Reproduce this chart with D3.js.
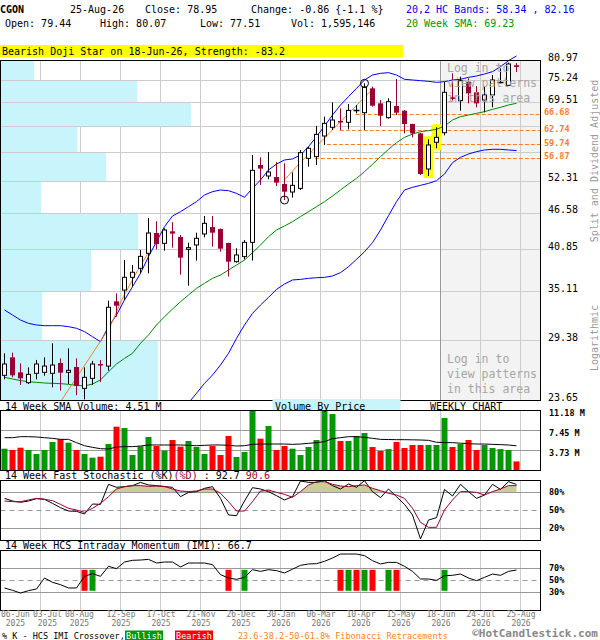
<!DOCTYPE html>
<html>
<head>
<meta charset="utf-8">
<script src="https://cdn.jsdelivr.net/npm/d3@7/dist/d3.min.js"></script>
<style>
  body { margin: 0; background: #fff; }
  svg { display: block; }
  text { font-family: "DejaVu Sans Mono", monospace; }
</style>
</head>
<body>
<svg id="chart" width="600" height="640"></svg>
<script>
// weekly candles, oldest first (65 weeks)
let opens = [25.86, 27.60, 26.14, 25.18, 26.05, 26.14, 26.05, 27.04, 26.14, 26.65,
    24.67, 25.58, 26.94, 26.74, 33.80, 35.21, 36.87, 38.09, 40.22, 43.29,
    41.70, 43.55, 42.67, 40.80, 41.45, 43.14, 44.23, 43.92, 41.75, 39.02,
    39.74, 41.85, 55.37, 53.21, 53.02, 51.69, 50.21, 50.88, 56.72, 57.07,
    61.50, 63.46, 64.93, 64.62, 67.56, 66.91, 73.07, 69.21, 65.72, 68.55,
    67.40, 64.22, 62.09, 54.57, 60.11, 62.24, 70.74, 69.89, 74.86, 72.03,
    70.06, 71.34, 74.82, 73.88, 79.44];
let highs = [28.00, 28.07, 27.00, 26.61, 27.34, 27.60, 29.04, 27.50, 28.51, 27.50,
    26.61, 27.24, 27.34, 33.89, 34.79, 39.25, 38.55, 40.71, 45.71, 45.16,
    44.02, 45.00, 42.98, 41.80, 43.34, 46.04, 46.04, 44.00, 41.80, 40.95,
    42.20, 57.41, 56.93, 58.04, 55.97, 55.71, 53.92, 58.46, 59.17, 63.76,
    65.96, 69.47, 67.98, 69.05, 68.80, 74.41, 73.52, 70.06, 70.48, 75.59,
    67.56, 64.30, 62.20, 60.76, 63.46, 74.86, 77.16, 76.23, 75.77, 73.70,
    73.52, 76.69, 78.56, 80.20, 80.07];
let lows = [25.49, 25.67, 24.97, 25.06, 25.49, 25.83, 24.76, 24.46, 25.06, 24.06,
    23.70, 24.97, 25.24, 26.30, 31.97, 33.97, 35.64, 37.41, 37.41, 40.80,
    40.61, 41.05, 37.23, 35.77, 39.17, 42.61, 41.20, 40.46, 36.97, 38.88,
    39.35, 39.17, 51.51, 52.57, 51.31, 48.78, 49.20, 50.58, 55.04, 55.37,
    59.53, 62.85, 62.85, 63.00, 66.75, 62.85, 68.38, 63.76, 65.48, 66.35,
    62.09, 61.20, 53.40, 53.21, 58.82, 61.64, 69.89, 67.40, 69.21, 68.22,
    67.00, 68.22, 74.41, 73.80, 77.51];
let closes = [26.94, 25.86, 25.58, 25.95, 26.94, 26.74, 26.84, 26.11, 26.33, 24.88,
    25.67, 26.94, 26.81, 33.08, 33.27, 36.87, 37.55, 39.78, 43.29, 41.60,
    43.76, 43.19, 39.59, 41.05, 42.46, 44.83, 43.34, 40.90, 39.02, 39.98,
    41.85, 54.31, 54.64, 53.98, 51.94, 50.27, 51.44, 57.90, 58.82, 61.87,
    64.38, 65.16, 64.62, 67.48, 67.56, 73.34, 68.63, 66.19, 69.63, 66.91,
    64.22, 62.09, 53.60, 59.53, 61.20, 72.03, 70.31, 75.13, 71.77, 69.21,
    71.34, 75.32, 74.82, 79.81, 78.95];

// volume, millions of shares
let volumes = [3.97, 3.73, 4.16, 3.73, 2.98, 3.73, 5.22, 5.72, 5.09, 3.73,
    2.98, 2.30, 2.48, 4.84, 8.07, 7.83, 2.80, 4.41, 6.15, 4.47,
    3.60, 5.59, 4.35, 5.40, 4.29, 2.98, 4.47, 2.80, 6.34, 2.42,
    3.35, 11.10, 5.84, 8.20, 3.73, 4.47, 3.97, 2.80, 4.29, 5.59,
    11.18, 10.43, 5.40, 5.40, 6.34, 6.89, 4.29, 3.54, 3.90, 5.22,
    4.10, 4.66, 4.66, 4.66, 4.66, 9.69, 4.29, 4.84, 5.59, 3.73,
    4.66, 4.10, 3.90, 3.73, 1.595146];
let volSma = [6.02, 6.02, 6.21, 6.21, 6.15, 6.02, 5.90, 5.71, 5.71, 5.09,
    4.53, 4.22, 3.97, 3.91, 4.28, 4.35, 4.35, 4.47, 4.66, 4.66,
    4.66, 4.66, 4.66, 4.60, 4.53, 4.60, 4.66, 4.66, 4.60, 4.47,
    4.53, 4.78, 4.84, 4.84, 4.84, 4.84, 4.78, 4.84, 4.97, 5.10,
    5.28, 5.84, 6.02, 6.21, 6.21, 6.09, 5.90, 5.71, 5.68, 5.65,
    5.65, 5.62, 5.59, 5.53, 5.16, 5.12, 5.09, 5.00, 4.90, 4.84,
    4.84, 4.78, 4.72, 4.66, 4.51];

// 20,2 HC bands and 20 week SMA
let bandUpper = [32.76, 32.17, 31.59, 31.21, 31.03, 30.95, 30.95, 30.95, 30.84, 30.66,
    30.29, 29.74, 29.21, 30.84, 32.17, 33.97, 35.64, 37.41, 39.74, 41.95,
    44.29, 46.04, 46.76, 47.62, 48.49, 49.67, 50.27, 50.58, 50.45, 49.97,
    49.26, 50.88, 52.44, 54.37, 55.56, 56.38, 56.60, 57.41, 59.17, 61.35,
    63.76, 66.35, 68.80, 70.91, 73.07, 75.32, 76.69, 77.16, 77.34, 76.69,
    75.50, 75.32, 75.13, 74.95, 74.68, 74.86, 75.32, 75.50, 76.04, 76.41,
    76.97, 77.63, 79.04, 80.78, 82.16];
let bandLower = [null, null, null, null, null, null, null, null, null, null,
    null, null, null, null, null, null, null, null, null, null,
    null, null, null, 23.40, 24.23, 25.12, 25.89, 26.84, 28.00, 29.56,
    31.03, 32.36, 33.35, 34.29, 35.30, 35.99, 36.52, 36.60, 36.74, 36.82,
    36.87, 37.05, 37.50, 38.32, 39.35, 40.46, 41.80, 43.76, 46.09, 48.49,
    50.58, 51.07, 51.44, 51.81, 52.31, 53.60, 55.84, 56.93, 57.62, 58.11,
    58.46, 58.60, 58.60, 58.46, 58.34];
let sma20 = [25.67, 25.52, 25.37, 25.27, 25.21, 25.15, 25.12, 25.09, 25.03, 24.94,
    24.88, 25.06, 25.43, 26.20, 26.94, 27.50, 28.00, 29.04, 29.93, 31.03,
    31.97, 32.87, 33.76, 34.58, 35.43, 36.08, 36.74, 37.18, 37.86, 38.55,
    39.25, 40.31, 41.45, 42.72, 43.76, 44.40, 45.10, 45.93, 46.76, 47.62,
    48.49, 49.49, 50.58, 51.69, 52.76, 54.05, 55.50, 57.07, 58.60, 60.03,
    61.20, 61.94, 62.47, 62.70, 63.00, 63.76, 65.16, 65.96, 66.35, 66.75,
    67.16, 67.72, 68.22, 68.80, 69.23];

// two trend lines (week index, price)
let trend1Week = [7.15, 13.2, 14.85, 16.9, 18.2];
let trend1Price = [23.65, 30.84, 34.37, 38.32, 40.71];
let trend2Week = [34.97, 36.9, 45.9];
let trend2Price = [52.44, 55.71, 72.64];

// fibonacci retracement levels and the week each line starts
let fibLevels = [66.68, 62.74, 59.74, 56.87];
let fibStart = [43.9, 41.9, 40.3, 38.8];

// volume by price: price levels (bottom to top) and volume per band (millions)
let priceLevels = [23.65, 29.38, 35.11, 40.85, 46.58, 52.31, 58.04, 63.78, 69.51, 75.24, 80.97];
let priceLabels = [23.65, 29.38, 35.11, 40.85, 46.58, 52.31, 69.51, 75.24, 80.97];
let vbpVolume = [60.0, 15.7, 34.4, 52.4, 15.3, 40.1, 29.1, 72.6, 52.0, 12.6];

// 14 week fast stochastic
let stochK = [69.4, 65.0, 62.8, 65.0, 68.9, 67.8, 61.0, 53.9, 48.3, 47.8,
    43.3, 60.0, 59.4, 92.8, 87.8, 88.9, 90.6, 96.0, 91.7, 90.6,
    88.9, 87.8, 72.2, 79.4, 80.6, 86.1, 88.9, 69.4, 41.7, 40.6,
    65.0, 87.2, 85.0, 80.6, 73.9, 66.7, 72.2, 98.3, 96.1, 96.1,
    98.9, 90.6, 85.0, 93.3, 87.8, 98.9, 80.6, 70.6, 85.0, 72.2,
    59.4, 41.7, 1.7, 33.3, 37.2, 84.4, 73.3, 92.8, 80.6, 69.4,
    75.0, 92.8, 84.4, 97.2, 92.7];
let stochD = [65.0, 63.9, 63.9, 66.7, 69.4, 67.8, 65.6, 59.4, 52.8, 50.0,
    46.1, 52.8, 61.1, 72.2, 85.0, 88.9, 90.6, 90.6, 89.4, 90.0,
    89.4, 85.0, 81.7, 80.6, 81.7, 85.0, 85.0, 77.8, 63.9, 48.3,
    48.3, 63.9, 81.7, 83.3, 79.4, 76.1, 71.1, 80.6, 91.7, 97.2,
    97.2, 92.8, 90.0, 88.9, 90.6, 91.7, 86.1, 82.2, 77.8, 75.0,
    69.4, 52.8, 29.4, 21.1, 21.1, 50.0, 66.7, 80.6, 80.6, 79.4,
    75.0, 80.6, 85.0, 90.6, 90.6];

// 14 week HCS intraday momentum
let imi = [36.7, 32.8, 28.3, 32.2, 35.0, 53.3, 46.1, 42.2, 36.7, 36.7,
    56.1, 60.6, 56.1, 72.8, 68.9, 80.0, 82.8, 83.3, 84.4, 78.3,
    80.0, 80.0, 71.7, 78.3, 78.3, 78.3, 75.6, 58.9, 53.3, 51.1,
    54.4, 67.2, 64.4, 67.2, 65.6, 61.7, 68.0, 74.4, 76.7, 77.2,
    81.1, 86.7, 93.3, 93.3, 93.3, 90.6, 82.2, 76.7, 79.4, 79.4,
    72.8, 64.4, 51.7, 51.7, 49.4, 57.2, 57.8, 60.0, 53.3, 48.9,
    54.4, 60.0, 57.8, 64.4, 66.7];
let crossWeek = [10, 11, 28, 30, 42, 43, 44, 45, 46, 48, 49, 55];
let crossBull = [false, true, false, true, false, true, false, true, false, true, false, true];

// patterns
let highlightWeek = [53, 54];
let circleWeek = [35, 45];
let circleAt = ['low', 'high'];

// x axis labels
let tickDates = ['06-Jun', '03-Jul', '08-Aug', '12-Sep', '17-Oct', '21-Nov', '26-Dec',
    '30-Jan', '06-Mar', '10-Apr', '15-May', '18-Jun', '24-Jul', '25-Aug'];
let tickYears = ['2025', '2025', '2025', '2025', '2025', '2025', '2025',
    '2026', '2026', '2026', '2026', '2026', '2026', '2026'];
let tickPos = [1.3, 5.3, 9.3, 14.5, 19.5, 24.5, 29.5, 34.5, 39.5, 44.5, 49.5, 54.5, 59.5, 64.5];

let ticker = 'CGON', lastDate = '25-Aug-26';
let patternText = 'Bearish Doji Star on 18-Jun-26, Strength: -83.2';

// ---------------------------------------------------------------
let maroon = '#990033', upGreen = '#009900', downRed = '#ff0000',
    fibColor = '#ff7f27', gridColor = '#cccccc', midGray = '#999999';

let svg = d3.select('#chart');
let n = closes.length - 1;
let weeks = d3.range(closes.length);

let x = d3.scaleLinear().domain([-0.5, 67]).range([0.5, 540.5]);
let yPrice = d3.scaleLog().domain([23.65, 80.97]).range([400, 60]);
let yVol = d3.scaleLinear().domain([0, 11.18]).range([470, 410]);
let yStoch = d3.scaleLinear().domain([0, 100]).range([540, 480]);
let yImi = d3.scaleLinear().domain([0, 100]).range([610, 550]);
let xVbp = d3.scaleLinear().domain([0, 72.6]).range([0, 190]);
let gridX = d3.range(1, 14).map(k => x(5 * k - 0.5));

function label(g, tx, ty, s, o) {
    o = o || {};
    return g.append('text')
        .attr('x', tx)
        .attr('y', ty)
        .attr('font-size', o.size || 10)
        .attr('font-weight', o.weight || 'normal')
        .attr('fill', o.fill || '#000')
        .attr('text-anchor', o.anchor || 'start')
        .text(s);
}

function vGrid(g, y0, y1) {
    g.selectAll('vgrid')
        .data(gridX)
        .enter()
        .append('line')
        .attr('x1', d => d).attr('x2', d => d)
        .attr('y1', y0).attr('y2', y1)
        .attr('stroke', gridColor);
}

function hLine(g, y, color, dash) {
    g.append('line')
        .attr('x1', 0.5).attr('x2', 540.5)
        .attr('y1', Math.round(y) + 0.5).attr('y2', Math.round(y) + 0.5)
        .attr('stroke', color)
        .attr('stroke-dasharray', dash || null);
}

function frame(g, y0, y1) {
    g.append('rect')
        .attr('x', 0.5).attr('y', y0 + 0.5)
        .attr('width', 540).attr('height', y1 - y0)
        .attr('fill', 'none').attr('stroke', '#000');
}

// ---- header ----
let chg = closes[n] - closes[n - 1];
label(svg, 0, 13, ticker, {weight: 'bold'});
label(svg, 70, 13, lastDate);
label(svg, 145, 13, 'Close: ' + closes[n].toFixed(2));
label(svg, 251, 13, 'Change: ' + chg.toFixed(2) + ' {' + (chg / closes[n - 1] * 100).toFixed(1) + ' %}');
label(svg, 406, 13, '20,2 HC Bands: ' + bandLower[n].toFixed(2) + ' , ' + bandUpper[n].toFixed(2), {fill: '#0000ff'});
label(svg, 5, 27, 'Open: ' + opens[n].toFixed(2));
label(svg, 100, 27, 'High: ' + highs[n].toFixed(2));
label(svg, 200, 27, 'Low: ' + lows[n].toFixed(2));
label(svg, 291, 27, 'Vol: ' + d3.format(',')(Math.round(volumes[n] * 1e6)));
label(svg, 406, 27, '20 Week SMA: ' + sma20[n].toFixed(2), {fill: upGreen});
svg.append('rect').attr('x', 0).attr('y', 45).attr('width', 403).attr('height', 12.5).attr('fill', '#ffff00');
label(svg, 2, 55, patternText);

// ---- main price chart ----
let main = svg.append('g');
main.append('rect').attr('x', 440.5).attr('y', 60.5).attr('width', 100).attr('height', 340).attr('fill', '#f3f3f3');
vGrid(main, 60, 400);

let bands = d3.range(vbpVolume.length);
main.selectAll('vbp')
    .data(bands)
    .enter()
    .append('rect')
    .attr('x', 1)
    .attr('y', d => Math.round(yPrice(priceLevels[d + 1])) + 1)
    .attr('width', d => xVbp(vbpVolume[d]))
    .attr('height', d => Math.round(yPrice(priceLevels[d])) - Math.round(yPrice(priceLevels[d + 1])) - 1)
    .attr('fill', '#c8f4fc');

priceLevels.forEach(p => hLine(main, yPrice(p), gridColor));
main.append('line').attr('x1', 440.5).attr('x2', 440.5).attr('y1', 60).attr('y2', 400).attr('stroke', '#999');

fibLevels.forEach((p, i) => {
    let yy = Math.round(yPrice(p)) + 0.5;
    main.append('line')
        .attr('x1', x(fibStart[i])).attr('x2', 540)
        .attr('y1', yy).attr('y2', yy)
        .attr('stroke', fibColor)
        .attr('stroke-dasharray', '4,2');
});

// highlighted pattern candles
main.selectAll('hl')
    .data(highlightWeek)
    .enter()
    .append('rect')
    .attr('x', d => x(d) - 5)
    .attr('y', d => yPrice(highs[d]) - 3)
    .attr('width', 10)
    .attr('height', d => yPrice(lows[d]) - yPrice(highs[d]) + 5)
    .attr('fill', '#ffff00');

svg.append('clipPath').attr('id', 'priceClip')
    .append('rect').attr('x', 0).attr('y', 0).attr('width', 541).attr('height', 400);
let lines = main.append('g').attr('clip-path', 'url(#priceClip)');
let priceLine = arr => d3.line()
    .defined(d => arr[d] != null)
    .x(d => x(d))
    .y(d => yPrice(arr[d]));
lines.append('path').attr('d', priceLine(bandUpper)(weeks)).attr('fill', 'none').attr('stroke', '#0000ff');
lines.append('path').attr('d', priceLine(bandLower)(weeks)).attr('fill', 'none').attr('stroke', '#0000ff');
lines.append('path').attr('d', priceLine(sma20)(weeks)).attr('fill', 'none').attr('stroke', '#008800');
[[trend1Week, trend1Price], [trend2Week, trend2Price]].forEach(t => {
    lines.append('path')
        .attr('d', d3.line().x(d => x(t[0][d])).y(d => yPrice(t[1][d]))(d3.range(t[0].length)))
        .attr('fill', 'none').attr('stroke', fibColor);
});

// candles
let candles = main.selectAll('candle')
    .data(weeks)
    .enter()
    .append('g');
candles.append('line')
    .attr('x1', d => x(d)).attr('x2', d => x(d))
    .attr('y1', d => yPrice(highs[d])).attr('y2', d => yPrice(lows[d]))
    .attr('stroke', d => closes[d] < opens[d] ? maroon : '#000');
candles.filter(d => closes[d] > opens[d])
    .append('rect')
    .attr('x', d => x(d) - 2)
    .attr('y', d => yPrice(closes[d]))
    .attr('width', 4)
    .attr('height', d => Math.max(1, yPrice(opens[d]) - yPrice(closes[d])))
    .attr('fill', '#fff').attr('stroke', '#000');
candles.filter(d => closes[d] < opens[d])
    .append('rect')
    .attr('x', d => x(d) - 2.5)
    .attr('y', d => yPrice(opens[d]))
    .attr('width', 5)
    .attr('height', d => Math.max(1.5, yPrice(closes[d]) - yPrice(opens[d])))
    .attr('fill', maroon);
candles.filter(d => closes[d] === opens[d])
    .append('line')
    .attr('x1', d => x(d) - 3).attr('x2', d => x(d) + 3)
    .attr('y1', d => Math.round(yPrice(closes[d])) + 0.5)
    .attr('y2', d => Math.round(yPrice(closes[d])) + 0.5)
    .attr('stroke', '#000').attr('stroke-width', 1.5);

main.selectAll('pc')
    .data(d3.range(circleWeek.length))
    .enter()
    .append('circle')
    .attr('cx', d => x(circleWeek[d]))
    .attr('cy', d => yPrice(circleAt[d] === 'low' ? lows[circleWeek[d]] : highs[circleWeek[d]]))
    .attr('r', 4)
    .attr('fill', 'none').attr('stroke', '#000');

['Log in to', 'view patterns', 'in this area'].forEach((s, i) => {
    label(main, 447, 71.5 + 15 * i, s, {size: 11.5, fill: '#a6a6a6'});
    label(main, 447, 363 + 15 * i, s, {size: 11.5, fill: '#a6a6a6'});
});
frame(main, 60, 400);

let yAxis = d3.axisRight(yPrice)
    .tickValues(priceLabels)
    .tickSize(0)
    .tickPadding(8)
    .tickFormat(d3.format('.2f'));
svg.append('g')
    .attr('transform', 'translate(540,0)')
    .call(yAxis)
    .call(g => g.select('.domain').remove())
    .selectAll('text')
    .attr('dy', '0.02em')
    .attr('font-size', 10)
    .attr('fill', '#000');

fibLevels.forEach(p => label(svg, 544, yPrice(p) + 1.5, p.toFixed(2), {size: 8.5, weight: 'bold', fill: fibColor}));

label(svg, 0, 0, 'Split and Dividend Adjusted', {fill: '#999', anchor: 'middle'})
    .attr('transform', 'translate(597.5,161) rotate(-90)');
label(svg, 0, 0, 'Logarithmic', {fill: '#999', anchor: 'middle'})
    .attr('transform', 'translate(597.5,338) rotate(-90)');

// ---- volume panel ----
let vol = svg.append('g');
vGrid(vol, 410, 470);
[3.73, 7.45].forEach(v => hLine(vol, yVol(v), midGray));
vol.selectAll('vbar')
    .data(weeks)
    .enter()
    .append('rect')
    .attr('x', d => x(d) - 3)
    .attr('y', d => yVol(volumes[d]))
    .attr('width', 6)
    .attr('height', d => 470.5 - yVol(volumes[d]))
    .attr('fill', d => closes[d] >= opens[d] ? upGreen : downRed);
vol.append('path')
    .attr('d', d3.line().x(d => x(d)).y(d => yVol(volSma[d]))(weeks))
    .attr('fill', 'none').attr('stroke', '#000');
frame(vol, 410, 470);
svg.append('rect').attr('x', 272.5).attr('y', 399).attr('width', 128).attr('height', 11).attr('fill', '#c8f4fc');
label(svg, 275, 409.5, 'Volume By Price');
label(svg, 430, 409.5, 'WEEKLY CHART');
label(svg, 5, 409.5, '14 Week SMA Volume: ' + volSma[n].toFixed(2) + ' M');

let volAxis = d3.axisRight(yVol)
    .tickValues([3.73, 7.45, 11.18])
    .tickSize(0)
    .tickPadding(9)
    .tickFormat(d => d.toFixed(2) + ' M');
svg.append('g')
    .attr('transform', 'translate(540,0)')
    .call(volAxis)
    .call(g => g.select('.domain').remove())
    .selectAll('text')
    .attr('dy', '0.6em')
    .attr('font-size', 8.5)
    .attr('font-weight', 'bold')
    .attr('fill', '#000');

// ---- stochastic panel ----
let sto = svg.append('g');
vGrid(sto, 480, 540);
sto.append('path')
    .attr('d', d3.area().x(d => x(d)).y0(yStoch(80)).y1(d => yStoch(Math.max(80, stochD[d])))(weeks))
    .attr('fill', '#cccc99');
hLine(sto, yStoch(80), midGray);
hLine(sto, yStoch(20), midGray);
hLine(sto, yStoch(50), midGray, '5,4');
sto.append('path')
    .attr('d', d3.line().x(d => x(d)).y(d => yStoch(stochK[d]))(weeks))
    .attr('fill', 'none').attr('stroke', '#000');
sto.append('path')
    .attr('d', d3.line().x(d => x(d)).y(d => yStoch(stochD[d]))(weeks))
    .attr('fill', 'none').attr('stroke', maroon);
frame(sto, 480, 540);
let stoTitle = svg.append('text').attr('x', 5).attr('y', 479).attr('font-size', 10);
stoTitle.append('tspan').text('14 Week Fast Stochastic (%K)');
stoTitle.append('tspan').attr('fill', maroon).text('(%D)');
stoTitle.append('tspan').text(' : ' + stochK[n].toFixed(1) + ' ');
stoTitle.append('tspan').attr('fill', maroon).text(stochD[n].toFixed(1));

let pctAxis = (scale, ticks) => d3.axisRight(scale)
    .tickValues(ticks)
    .tickSize(0)
    .tickPadding(9)
    .tickFormat(d => d + '%');
svg.append('g')
    .attr('transform', 'translate(540,0)')
    .call(pctAxis(yStoch, [20, 50, 80]))
    .call(g => g.select('.domain').remove())
    .selectAll('text')
    .attr('font-size', 8.5).attr('font-weight', 'bold').attr('fill', '#000');

// ---- IMI panel ----
let mom = svg.append('g');
vGrid(mom, 550, 610);
hLine(mom, yImi(70), midGray);
hLine(mom, yImi(30), midGray);
hLine(mom, yImi(50), midGray, '5,4');
mom.selectAll('cross')
    .data(d3.range(crossWeek.length))
    .enter()
    .append('rect')
    .attr('x', d => x(crossWeek[d]) - 3)
    .attr('y', yImi(67))
    .attr('width', 6)
    .attr('height', yImi(32) - yImi(67))
    .attr('fill', d => crossBull[d] ? upGreen : downRed);
mom.append('path')
    .attr('d', d3.line().x(d => x(d)).y(d => yImi(imi[d]))(weeks))
    .attr('fill', 'none').attr('stroke', '#000');
frame(mom, 550, 610);
label(svg, 5, 549, '14 Week HCS Intraday Momentum (IMI): ' + imi[n].toFixed(1));
svg.append('g')
    .attr('transform', 'translate(540,0)')
    .call(pctAxis(yImi, [30, 50, 70]))
    .call(g => g.select('.domain').remove())
    .selectAll('text')
    .attr('font-size', 8.5).attr('font-weight', 'bold').attr('fill', '#000');

// ---- date axis: month labels on one axis, years on a second ----
let dateAxis = d3.axisBottom(x).tickValues(tickPos).tickSize(0).tickPadding(0)
    .tickFormat((d, i) => tickDates[i]);
svg.append('g')
    .attr('transform', 'translate(0,611)')
    .call(dateAxis)
    .call(g => g.select('.domain').remove())
    .selectAll('text')
    .attr('font-size', 8).attr('fill', '#777');
let yearAxis = d3.axisBottom(x).tickValues(tickPos).tickSize(0).tickPadding(0)
    .tickFormat((d, i) => tickYears[i]);
svg.append('g')
    .attr('transform', 'translate(0,620)')
    .call(yearAxis)
    .call(g => g.select('.domain').remove())
    .selectAll('text')
    .attr('font-size', 8).attr('fill', '#777');

// ---- footer ----
label(svg, 2, 638.5, '% K - HCS IMI Crossover,', {size: 8.5});
svg.append('rect').attr('x', 125).attr('y', 630.5).attr('width', 38).attr('height', 10).attr('fill', upGreen);
label(svg, 144, 638.5, 'Bullish', {size: 8.5, fill: '#fff', anchor: 'middle'});
svg.append('rect').attr('x', 175).attr('y', 630.5).attr('width', 38).attr('height', 10).attr('fill', downRed);
label(svg, 194, 638.5, 'Bearish', {size: 8.5, fill: '#fff', anchor: 'middle'});
label(svg, 238, 638.5, '23.6-38.2-50-61.8% Fibonacci Retracements', {size: 8.5, fill: fibColor});
label(svg, 598, 637, '\u00A9HotCandlestick.com', {size: 11, weight: 'bold', fill: '#888', anchor: 'end'});
</script>
</body>
</html>
